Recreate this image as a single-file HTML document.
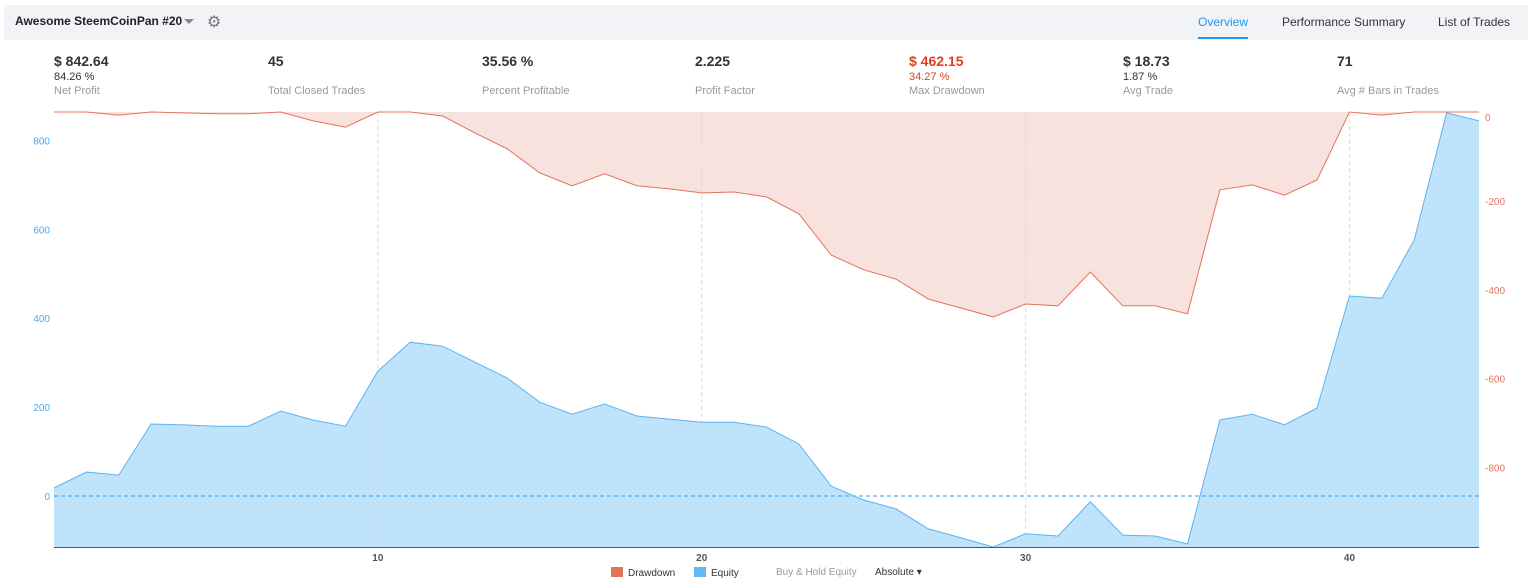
<!DOCTYPE html>
<html><head><meta charset="utf-8"><style>
body{margin:0;width:1538px;height:583px;background:#fff;font-family:"Liberation Sans",sans-serif;position:relative;overflow:hidden;color:#333}
.hdr{position:absolute;left:4px;top:5px;width:1524px;height:35px;background:#f1f3f6}
.t{position:absolute;white-space:nowrap}
.stat .v{position:absolute;top:53px;font-size:14px;font-weight:bold;color:#333;white-space:nowrap}
.stat .p{position:absolute;top:71px;font-size:11px;color:#333;white-space:nowrap}
.stat .l{position:absolute;top:85px;font-size:11px;color:#999;white-space:nowrap}
</style></head><body>
<div class="hdr"></div>
<div class="t" style="left:15px;top:14px;font-size:12px;font-weight:bold;color:#222">Awesome SteemCoinPan #20</div>
<div class="t" style="left:184px;top:19px;width:0;height:0;border-left:5px solid transparent;border-right:5px solid transparent;border-top:5px solid #888"></div>
<div class="t" style="left:207px;top:12px;font-size:16px;color:#777;font-family:'DejaVu Sans',sans-serif">⚙</div>
<div class="t" style="left:1198px;top:15px;font-size:12px;color:#2196f3">Overview</div>
<div class="t" style="left:1198px;top:37px;width:50px;height:2px;background:#2196f3"></div>
<div class="t" style="left:1282px;top:15px;font-size:12px;color:#333">Performance Summary</div>
<div class="t" style="left:1438px;top:15px;font-size:12px;color:#333">List of Trades</div>

<div class="stat"><div class="v" style="left:54px">$ 842.64</div><div class="p" style="left:54px">84.26 %</div><div class="l" style="left:54px">Net Profit</div></div>
<div class="stat"><div class="v" style="left:268px">45</div><div class="l" style="left:268px">Total Closed Trades</div></div>
<div class="stat"><div class="v" style="left:482px">35.56 %</div><div class="l" style="left:482px">Percent Profitable</div></div>
<div class="stat"><div class="v" style="left:695px">2.225</div><div class="l" style="left:695px">Profit Factor</div></div>
<div class="stat"><div class="v" style="left:909px;color:#e0401a">$ 462.15</div><div class="p" style="left:909px;color:#e0401a">34.27 %</div><div class="l" style="left:909px">Max Drawdown</div></div>
<div class="stat"><div class="v" style="left:1123px">$ 18.73</div><div class="p" style="left:1123px">1.87 %</div><div class="l" style="left:1123px">Avg Trade</div></div>
<div class="stat"><div class="v" style="left:1337px">71</div><div class="l" style="left:1337px">Avg # Bars in Trades</div></div>

<svg id="chart" width="1538" height="583" style="position:absolute;left:0;top:0;font-family:'Liberation Sans',sans-serif"></svg>

<div class="t" style="left:611px;top:567px;font-size:10px;color:#333"><span style="display:inline-block;width:12px;height:10px;background:#e5735a;vertical-align:-1px;margin-right:5px"></span>Drawdown</div>
<div class="t" style="left:694px;top:567px;font-size:10px;color:#333"><span style="display:inline-block;width:12px;height:10px;background:#64b9f5;vertical-align:-1px;margin-right:5px"></span>Equity</div>
<div class="t" style="left:776px;top:567px;font-size:10px;color:#999">Buy &amp; Hold Equity</div>
<div class="t" style="left:875px;top:567px;font-size:10px;color:#333">Absolute ▾</div>

<script>
const tradeIdx=[];for(let i=0;i<45;i++)tradeIdx.push(i);
const equity=[18,54,47,162,160,157,157,191,171,157,281,346,337,301,265,211,184,207,180,173,166,166,155,117,22,-9,-29,-74,-94,-115,-85,-90,-13,-88,-90,-108,171,184,160,198,450,445,576,862,844];
const drawdown=[0,0,-7,0,-2,-4,-4,0,-20,-34,0,0,-9,-47,-83,-137,-166,-139,-166,-173,-182,-180,-191,-229,-322,-355,-376,-421,-441,-461,-432,-436,-360,-436,-436,-454,-175,-164,-187,-153,0,-7,0,0,0];
const xTicks=[10,20,30,40];
const eqTicks=[0,200,400,600,800];
const ddTicks=[0,-200,-400,-600,-800];

const svg=document.getElementById('chart');
const NS='http://www.w3.org/2000/svg';
const L=54,R=1479,T=112,B=547;
const X=i=>L+(R-L)*i/44;
const k=0.4445;
const YE=v=>496-v*k;
const YD=v=>T-v*k;
function mk(tag,attrs){const e=document.createElementNS(NS,tag);for(const a in attrs)e.setAttribute(a,attrs[a]);svg.appendChild(e);return e;}

let d='M'+X(0)+','+T;
drawdown.forEach((v,i)=>d+=' L'+X(i)+','+YD(v));
d+=' L'+X(44)+','+T+'Z';
let e=mk('path',{d:d,fill:'#f8e2dd'});


d='M'+X(0)+','+B;
equity.forEach((v,i)=>d+=' L'+X(i)+','+Math.min(B,YE(v)));
d+=' L'+X(44)+','+B+'Z';
e=mk('path',{d:d,fill:'#bfe3fb'});


xTicks.forEach(t=>{
  e=mk('line',{x1:X(t),x2:X(t),y1:T,y2:B,stroke:'#d8dbe0','stroke-dasharray':'4,3'});
  
  
  e=mk('text',{x:X(t),y:B+14,'text-anchor':'middle','font-size':'10','font-weight':'bold',fill:'#555'});
  e.textContent=t;
  
  
});
e=mk('line',{x1:L,x2:R,y1:YE(0),y2:YE(0),stroke:'#2d9cf0','stroke-dasharray':'4,3'});


e=mk('polyline',{points:drawdown.map((v,i)=>X(i)+','+YD(v)).join(' '),fill:'none',stroke:'#e5735a','stroke-width':1});


e=mk('polyline',{points:equity.map((v,i)=>X(i)+','+Math.min(B,YE(v))).join(' '),fill:'none',stroke:'#5ab4f2','stroke-width':1});


e=mk('line',{x1:L,x2:R,y1:B+0.5,y2:B+0.5,stroke:'#555'});


eqTicks.forEach(t=>{
  e=mk('text',{x:50,y:YE(t)+4,'text-anchor':'end','font-size':'10',fill:'#4aa8ee'});
  e.textContent=t;
  
  
});
ddTicks.forEach(t=>{
  e=mk('text',{x:1485,y:Math.max(T+9,YD(t)+4),'font-size':'10',fill:'#e5735a'});
  e.textContent=t;
  
  
});
</script>
</body></html>
